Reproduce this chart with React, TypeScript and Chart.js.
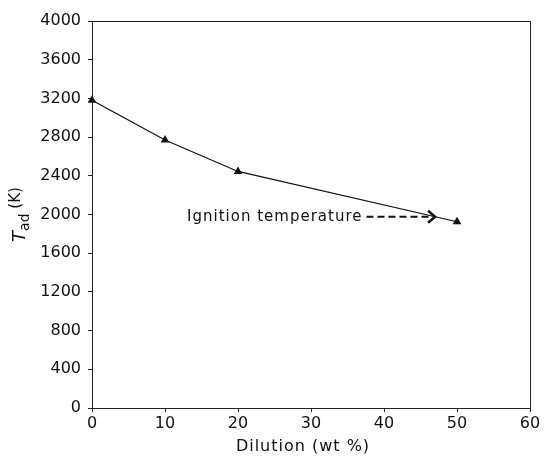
import React, { useEffect, useRef } from "react";
import { Chart, registerables } from "chart.js";
Chart.register(...registerables);

const dilution = [0, 10, 20, 50];
const tad = [3180, 2770, 2445, 1925];
const xTickValues = [0, 10, 20, 30, 40, 50, 60];
const yTickValues = [0, 400, 800, 1200, 1600, 2000, 2400, 2800, 3200, 3600, 4000];
const annotationText = "Ignition temperature";
const arrowFromX = 37.6;
const arrowToX = 47.0;
const arrowY = 1977;
const xTitle = "Dilution (wt %)";

const FONT = "DejaVu Sans";

const overlay = {
  id: "overlay",
  afterDraw(chart: any) {
    const { ctx, chartArea, scales } = chart;
    const xs = scales.x;
    const ys = scales.y;
    ctx.save();
    // frame
    ctx.strokeStyle = "#222";
    ctx.lineWidth = 1;
    ctx.strokeRect(chartArea.left + 0.5, chartArea.top + 0.5, chartArea.right - chartArea.left, chartArea.bottom - chartArea.top);

    // x title
    ctx.fillStyle = "#111";
    ctx.font = `16px "${FONT}"`;
    (ctx as any).letterSpacing = "1px";
    ctx.textAlign = "center";
    ctx.textBaseline = "alphabetic";
    ctx.fillText(xTitle, (chartArea.left + chartArea.right) / 2 - 8, 451);

    // y title (rotated) T_ad (K)
    ctx.save();
    ctx.translate(25, (chartArea.top + chartArea.bottom) / 2);
    ctx.rotate(-Math.PI / 2);
    (ctx as any).letterSpacing = "0px";
    ctx.textAlign = "left";
    const fT = `italic 18px "${FONT}"`;
    const fSub = `14px "${FONT}"`;
    const fK = `15px "${FONT}"`;
    ctx.font = fT;
    const wT = ctx.measureText("T").width;
    ctx.font = fSub;
    const wSub = ctx.measureText("ad").width;
    ctx.font = fK;
    const wK = ctx.measureText(" (K)").width;
    const total = wT + wSub + wK;
    let cx = -total / 2;
    ctx.font = fT;
    ctx.fillText("T", cx, 0);
    cx += wT;
    ctx.font = fSub;
    ctx.fillText("ad", cx, 4);
    cx += wSub;
    ctx.font = fK;
    ctx.fillText(" (K)", cx, -5);
    ctx.restore();

    // annotation
    const py = ys.getPixelForValue(arrowY);
    const x0 = xs.getPixelForValue(arrowFromX);
    const x1 = xs.getPixelForValue(arrowToX);
    ctx.font = `15px "${FONT}"`;
    (ctx as any).letterSpacing = "1px";
    ctx.textAlign = "right";
    ctx.textBaseline = "middle";
    ctx.fillStyle = "#111";
    ctx.fillText(annotationText, x0 - 4, py);
    ctx.strokeStyle = "#111";
    ctx.lineWidth = 2;
    ctx.setLineDash([7, 4]);
    ctx.beginPath();
    ctx.moveTo(x0, py);
    ctx.lineTo(x1 - 4, py);
    ctx.stroke();
    ctx.setLineDash([]);
    ctx.lineWidth = 2.5;
    ctx.beginPath();
    ctx.moveTo(x1 - 7, py - 6);
    ctx.lineTo(x1, py);
    ctx.lineTo(x1 - 7, py + 6);
    ctx.stroke();
    ctx.restore();
  },
};

export default function App() {
  const ref = useRef<HTMLCanvasElement>(null);
  useEffect(() => {
    if (!ref.current) return;
    const chart = new Chart(ref.current, {
      type: "scatter",
      data: {
        datasets: [
          {
            data: dilution.map((d, i) => ({ x: d, y: tad[i] })),
            showLine: true,
            borderColor: "#111",
            borderWidth: 1.2,
            backgroundColor: "#111",
            pointStyle: "triangle",
            pointRadius: 5,
            pointBorderWidth: 0,
            tension: 0,
            clip: false,
          },
        ],
      },
      options: {
        animation: false,
        responsive: true,
        maintainAspectRatio: false,
        layout: { padding: { top: 21, right: 15, left: 0, bottom: 0 } },
        plugins: { legend: { display: false }, tooltip: { enabled: false } },
        scales: {
          x: {
            type: "linear",
            min: 0,
            max: 60,
            afterBuildTicks: (s: any) => {
              s.ticks = xTickValues.map((v) => ({ value: v }));
            },
            afterFit: (s: any) => {
              s.height = 50;
            },
            ticks: { color: "#111", font: { family: FONT, size: 16 }, padding: 2, callback: (v: any) => String(v) },
            grid: { drawOnChartArea: false, drawTicks: true, tickLength: 4, color: "#222" },
            border: { display: true, color: "#222" },
          },
          y: {
            type: "linear",
            min: 0,
            max: 4000,
            afterBuildTicks: (s: any) => {
              s.ticks = yTickValues.map((v) => ({ value: v }));
            },
            afterFit: (s: any) => {
              s.width = 92;
            },
            ticks: { color: "#111", font: { family: FONT, size: 16 }, padding: 7, callback: (v: any) => String(v) },
            grid: { drawOnChartArea: false, drawTicks: true, tickLength: 4, color: "#222" },
            border: { display: true, color: "#222" },
          },
        },
      },
      plugins: [overlay],
    });
    return () => chart.destroy();
  }, []);
  return (
    <div style={{ position: "absolute", left: 0, top: 0, width: 545, height: 458, background: "#fff" }}>
      <canvas ref={ref} />
    </div>
  );
}
